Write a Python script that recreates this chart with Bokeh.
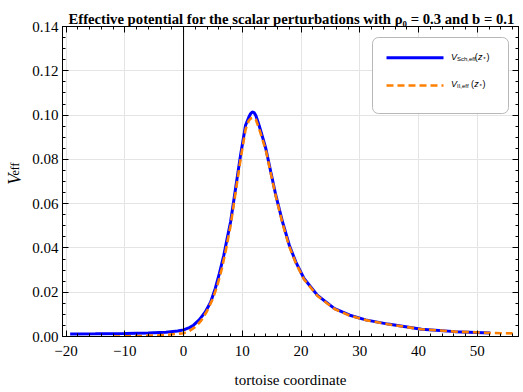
import math
from bokeh.plotting import figure
from bokeh.layouts import row
from bokeh.models import Range1d, FixedTicker, LinearAxis, Span, Title, Rect
from bokeh.core.properties import value
from bokeh.embed import file_html
from bokeh.resources import INLINE

# ---- data ----
x_sch = [-19.3, -15.0, -10.0, -6.0, -3.0, -1.0, 0.0, 1.0, 1.7, 2.7, 3.7, 4.6,
         5.4, 6.1, 6.85, 7.4, 8.0, 8.85, 9.7, 10.55, 11.1, 11.4, 11.7, 12.0,
         12.3, 12.85, 13.4, 14.0, 14.85, 15.7, 16.85, 18.0, 19.1, 20.5, 22.8,
         25.7, 28.3, 31.0, 34.8, 40.5, 46.2, 52.2]
v_sch = [0.0011, 0.0012, 0.0014, 0.0016, 0.0019, 0.0025, 0.0030, 0.0040,
         0.0051, 0.0076, 0.0111, 0.0155, 0.0217, 0.0285, 0.0367, 0.0440,
         0.0517, 0.0668, 0.0819, 0.0954, 0.0990, 0.1006, 0.1014, 0.1011,
         0.0998, 0.0954, 0.0905, 0.0849, 0.0743, 0.0638, 0.0517, 0.0412,
         0.0337, 0.0262, 0.0186, 0.0126, 0.0096, 0.0075, 0.0056, 0.0033,
         0.0022, 0.0016]

x_ii = [-12.0, -8.0, -5.0, -3.0, -1.5, 0.0, 1.0, 2.0, 3.0, 4.0, 5.0, 5.8,
        6.5, 7.2, 8.0, 8.85, 9.7, 10.55, 11.1, 11.5, 11.9, 12.3, 12.9, 13.5,
        14.1, 14.9, 15.8, 16.9, 18.0, 19.1, 20.5, 22.8, 25.7, 28.3, 31.0,
        34.8, 40.5, 46.2, 52.2, 56.0]
v_ii = [0.0000, 0.0001, 0.0004, 0.0007, 0.0011, 0.0015, 0.0025, 0.0043,
        0.0072, 0.0115, 0.0172, 0.0235, 0.0305, 0.0390, 0.0500, 0.0650,
        0.0800, 0.0935, 0.0975, 0.0986, 0.0989, 0.0980, 0.0935, 0.0885,
        0.0830, 0.0730, 0.0622, 0.0505, 0.0405, 0.0332, 0.0258, 0.0183,
        0.0124, 0.0094, 0.0074, 0.0055, 0.0033, 0.0022, 0.0016, 0.0014]

x_major = [-20, -10, 0, 10, 20, 30, 40, 50]
x_tick_labels = ["\u221220", "\u221210", "0", "10", "20", "30", "40", "50"]
x_minor = [-20, -18, -16, -14, -12, -10, -8, -6, -4, -2, 0, 2, 4, 6, 8, 10,
           12, 14, 16, 18, 20, 22, 24, 26, 28, 30, 32, 34, 36, 38, 40, 42,
           44, 46, 48, 50, 52, 54, 56]
y_major = [0.0, 0.02, 0.04, 0.06, 0.08, 0.10, 0.12, 0.14]
y_tick_labels = ["0.00", "0.02", "0.04", "0.06", "0.08", "0.10", "0.12", "0.14"]
y_minor = [0.0, 0.005, 0.01, 0.015, 0.02, 0.025, 0.03, 0.035, 0.04, 0.045,
           0.05, 0.055, 0.06, 0.065, 0.07, 0.075, 0.08, 0.085, 0.09, 0.095,
           0.10, 0.105, 0.11, 0.115, 0.12, 0.125, 0.13, 0.135, 0.14]

title_text = "Effective potential for the scalar perturbations with \u03c1\u2080 = 0.3 and b = 0.1"
x_label_text = "tortoise coordinate"
y_label_main, y_label_sub = "V", "eff"
legend_main = ["V", "V"]
legend_subs = ["Sch,eff", "II,eff"]

SERIF = "Liberation Serif"
SANS = "Liberation Sans"
BLUE, ORANGE = "#0000ff", "#ff8000"

X0, X1, Y0, Y1 = -20.6, 57.0, 0.0, 0.14
TOTAL_W, H = 523, 392
STRIP_W = 24
W = TOTAL_W - STRIP_W
FL_IMG, FB_IMG = 62, 336          # frame left / bottom in page pixels
BL, BR, BT, BB = FL_IMG - STRIP_W, 5, 26, H - FB_IMG
FW, FH = W - BL - BR, H - BT - BB

# ---------- strip holding the rotated y-axis label ----------
strip = figure(width=STRIP_W, height=H, output_backend="svg", toolbar_location=None,
               x_range=Range1d(0, STRIP_W), y_range=Range1d(0, H),
               min_border_left=0, min_border_right=0, min_border_top=0,
               min_border_bottom=0, x_axis_location=None, y_axis_location=None,
               background_fill_color="white", border_fill_color="white")
strip.outline_line_color = None
strip.grid.visible = False
strip.text(x=[14], y=[H - 200.0], text=[y_label_main], angle=math.pi / 2,
           text_align="left", text_baseline="alphabetic",
           text_font=value(SERIF), text_font_style="italic",
           text_font_size="18px", text_color="black")
strip.text(x=[14], y=[H - 188.5], text=[y_label_sub], angle=math.pi / 2,
           text_align="left", text_baseline="alphabetic",
           text_font=value(SERIF), text_font_size="12px", text_color="black")

# ---------- main plot ----------
p = figure(width=W, height=H, output_backend="svg", toolbar_location=None,
           x_range=Range1d(X0, X1), y_range=Range1d(Y0, Y1),
           min_border_left=BL, min_border_right=BR, min_border_top=BT,
           min_border_bottom=BB, background_fill_color="white",
           border_fill_color="white")
p.outline_line_color = "black"
p.outline_line_width = 1

xt = FixedTicker(ticks=x_major, minor_ticks=x_minor)
yt = FixedTicker(ticks=y_major, minor_ticks=y_minor)


def style_axis(ax, ticker, labels, show_labels):
    ax.ticker = ticker
    ax.axis_line_color = "black"
    ax.major_tick_line_color = "black"
    ax.minor_tick_line_color = "black"
    ax.major_tick_in = 6
    ax.major_tick_out = 0
    ax.minor_tick_in = 3
    ax.minor_tick_out = 0
    ax.major_label_text_font = SERIF
    ax.major_label_text_font_size = "15px"
    ax.major_label_text_color = "black"
    if show_labels:
        ax.major_label_overrides = dict(zip(ticker.ticks, labels))
    else:
        ax.major_label_text_alpha = 0
        ax.major_label_standoff = 0


xa = p.xaxis[0]
style_axis(xa, xt, x_tick_labels, True)
xa.major_label_standoff = 9
xa.axis_label = x_label_text
xa.axis_label_text_font = SERIF
xa.axis_label_text_font_size = "15px"
xa.axis_label_text_font_style = "normal"
xa.axis_label_text_color = "black"
xa.axis_label_standoff = 13

ya = p.yaxis[0]
style_axis(ya, yt, y_tick_labels, True)
ya.major_label_standoff = 4

top = LinearAxis()
style_axis(top, FixedTicker(ticks=x_major, minor_ticks=x_minor), x_tick_labels, False)
p.add_layout(top, "above")
right = LinearAxis()
style_axis(right, FixedTicker(ticks=y_major, minor_ticks=y_minor), y_tick_labels, False)
p.add_layout(right, "right")

p.xgrid.ticker = xt
p.ygrid.ticker = yt
p.xgrid.grid_line_color = "#e4e4e4"
p.ygrid.grid_line_color = "#e4e4e4"

p.add_layout(Span(location=0, dimension="height", line_color="black", line_width=1))

p.line(x_sch, v_sch, line_color=BLUE, line_width=3)
p.line(x_ii, v_ii, line_color=ORANGE, line_width=2.6, line_dash="7 4")


# ---------- legend drawn with glyphs (page pixels -> data) ----------
def dx(ximg):
    return X0 + (ximg - FL_IMG) / FW * (X1 - X0)


def dy(yimg):
    return Y0 + (FB_IMG - yimg) / FH * (Y1 - Y0)


box_l, box_r, box_t, box_b = 372, 508, 37, 113
box_kw = dict(width=box_r - box_l, height=box_b - box_t, width_units="screen",
              height_units="screen", fill_color="white", line_color="#b8b8b8",
              line_width=1)
if "border_radius" in Rect.properties():
    box_kw["border_radius"] = 6
p.rect(x=[dx((box_l + box_r) / 2)], y=[dy((box_t + box_b) / 2)], **box_kw)

key_x0, key_x1 = 386, 443
key_y = [57.3, 85.0]
p.line([dx(key_x0), dx(key_x1)], [dy(key_y[0])] * 2, line_color=BLUE, line_width=3)
p.line([dx(key_x0), dx(key_x1)], [dy(key_y[1])] * 2, line_color=ORANGE,
       line_width=2.6, line_dash="7 4")

t_txt, t_x, t_y, t_size, t_style = [], [], [], [], []
for ry, main, sub, xo in ((56.5, legend_main[0], legend_subs[0], 474.3),
                          (83.8, legend_main[1], legend_subs[1], 470.5)):
    for t, xi, yi, sz, st in ((main, 450.5, ry, "9px", "italic"),
                              (sub, 456.5, ry + 2, "6px", "normal"),
                              ("(", xo, ry, "9px", "normal"),
                              ("z", xo + 3.2, ry, "9px", "italic"),
                              ("*", xo + 8.4, ry + 2, "6px", "normal"),
                              (")", xo + 11.6, ry, "9px", "normal")):
        t_txt.append(t); t_x.append(dx(xi)); t_y.append(dy(yi))
        t_size.append(sz); t_style.append(st)
p.text(x=t_x, y=t_y, text=t_txt, text_font_size=t_size,
       text_font_style=t_style, text_font=value(SANS),
       text_baseline="middle", text_align="left", text_color="black")

p.title = Title(text=title_text, align="left", text_font=SERIF,
                text_font_style="bold", text_font_size="14.7px",
                text_color="black", standoff=0, offset=6)

layout = row(strip, p)
open("out.html", "w").write(file_html(layout, INLINE))
